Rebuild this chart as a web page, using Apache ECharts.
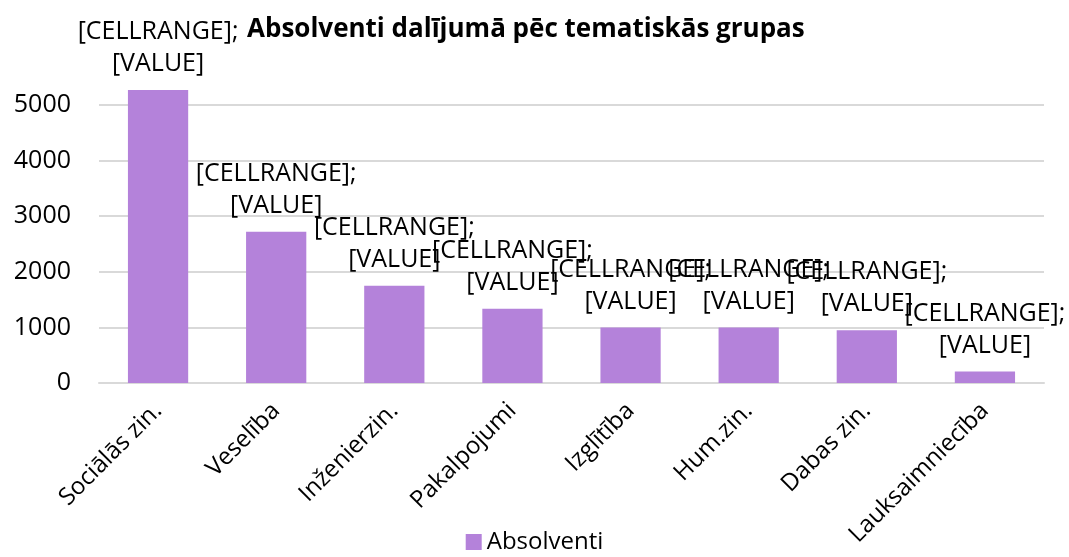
<!DOCTYPE html>
<html>
<head>
<meta charset="utf-8">
<script src="https://cdn.jsdelivr.net/npm/echarts@6/dist/echarts.min.js"></script>
<style>
  html, body { margin: 0; padding: 0; background: #fff; }
  #chart { width: 1069px; height: 557px; }
</style>
</head>
<body>
<div id="chart"></div>
<script>
// tematiskās grupas
var categories = ['Sociālās zin.', 'Veselība', 'Inženierzin.', 'Pakalpojumi', 'Izglītība', 'Hum.zin.', 'Dabas zin.', 'Lauksaimniecība']
// absolventu skaits
var absolventi = [5270, 2720, 1750, 1335, 1000, 1000, 950, 205]
var yTicks = [0, 1000, 2000, 3000, 4000, 5000]

var chart = echarts.init(document.getElementById('chart'))
var fontFamily = '"Open Sans", "Noto Sans", sans-serif'

chart.setOption({
  backgroundColor: '#ffffff',
  animation: false,
  title: {
    text: 'Absolventi dalījumā pēc tematiskās grupas',
    left: 242,
    top: 12,
    textStyle: {
      fontFamily: fontFamily,
      fontWeight: 'bold',
      fontSize: 26,
      color: '#000000'
    }
  },
  legend: {
    bottom: -2,
    left: 'center',
    icon: 'rect',
    itemWidth: 16,
    itemHeight: 16,
    itemGap: 8,
    data: ['Absolventi'],
    textStyle: {
      fontFamily: fontFamily,
      fontSize: 24,
      color: '#000000'
    }
  },
  grid: {
    left: 99,
    right: 25,
    top: 105,
    bottom: 174,
    containLabel: false
  },
  xAxis: {
    type: 'category',
    data: categories,
    axisTick: { show: false },
    axisLine: {
      lineStyle: { color: '#d9d9d9', width: 2 }
    },
    axisLabel: {
      rotate: 45,
      interval: 0,
      margin: 24,
      fontFamily: fontFamily,
      fontSize: 24,
      color: '#000000'
    }
  },
  yAxis: {
    type: 'value',
    min: yTicks[0],
    max: yTicks[yTicks.length - 1],
    interval: 1000,
    axisLine: { show: false },
    axisTick: { show: false },
    axisLabel: {
      margin: 28,
      fontFamily: fontFamily,
      fontSize: 25,
      color: '#000000',
      formatter: function(v) { return String(v) }
    },
    splitLine: {
      show: true,
      lineStyle: { color: '#d9d9d9', width: 2 }
    }
  },
  series: [{
    name: 'Absolventi',
    type: 'bar',
    data: absolventi,
    barWidth: '51%',
    clip: false,
    itemStyle: {
      color: '#b482da'
    },
    label: {
      show: true,
      position: 'top',
      distance: 10,
      formatter: '[CELLRANGE];\n[VALUE]',
      fontFamily: fontFamily,
      fontSize: 25,
      lineHeight: 32,
      color: '#000000'
    }
  }]
})
</script>
</body>
</html>
